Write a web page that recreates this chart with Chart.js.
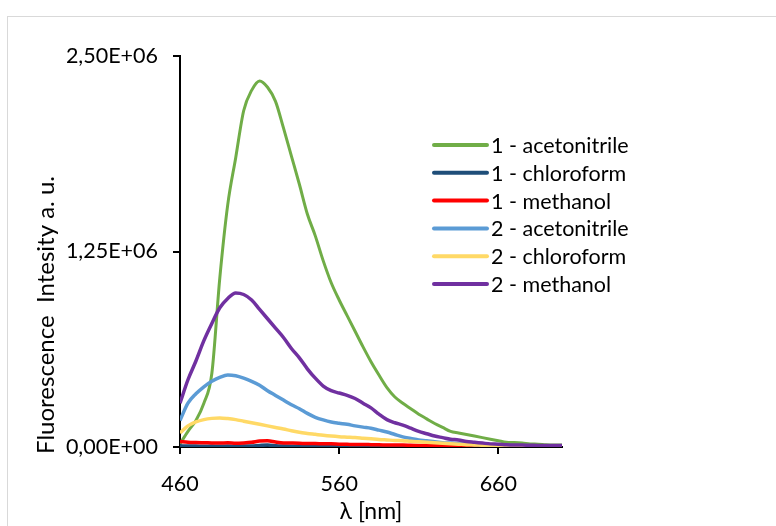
<!DOCTYPE html>
<html>
<head>
<meta charset="utf-8">
<script src="https://cdn.jsdelivr.net/npm/chart.js@4.4.1/dist/chart.umd.min.js"></script>
<style>
  html, body { margin: 0; padding: 0; background: #fff; }
  #wrap { position: relative; width: 776px; height: 526px; overflow: hidden; }
  #frame { position: absolute; left: 7px; top: 16px; width: 900px; height: 700px; border: 1px solid #d9d9d9; }
  #c { position: absolute; left: 0; top: 0; }
</style>
</head>
<body>
<div id="wrap">
  <div id="frame"></div>
  <canvas id="c" width="776" height="526"></canvas>
</div>
<script>
// Emission wavelengths, nm
const wavelengths = [460, 465, 470, 475, 480, 485, 490, 495, 500, 505, 510, 515, 520, 525, 530, 535, 540, 545, 550, 555,
  560, 565, 570, 575, 580, 585, 590, 595, 600, 605, 610, 615, 620, 625, 630, 635, 640, 645, 650, 655,
  660, 665, 670, 675, 680, 685, 690, 695, 700];

// Fluorescence intensity, in units of 10^6 a.u.
const acetonitrile1 = [0.02, 0.10, 0.17, 0.28, 0.47, 1.08, 1.55, 1.85, 2.15, 2.28, 2.34, 2.30, 2.21, 2.04, 1.86, 1.68, 1.49, 1.35, 1.19, 1.05,
  0.94, 0.84, 0.74, 0.64, 0.545, 0.46, 0.38, 0.32, 0.28, 0.245, 0.21, 0.18, 0.15, 0.125, 0.10, 0.09, 0.08, 0.07, 0.06, 0.05,
  0.04, 0.03, 0.028, 0.025, 0.02, 0.018, 0.015, 0.013, 0.012];
const chloroform1 = [0.008, 0.006, 0.006, 0.005, 0.006, 0.005, 0.006, 0.005, 0.006, 0.007, 0.010, 0.012, 0.008, 0.006, 0.005, 0.005, 0.005, 0.004, 0.004, 0.004,
  0.004, 0.004, 0.003, 0.003, 0.003, 0.003, 0.003, 0.003, 0.002, 0.002, 0.002, 0.002, 0.002, 0.002, 0.002, 0.002, 0.002, null, null, null,
  null, null, null, null, null, null, null, null, null];
const methanol1 = [0.035, 0.030, 0.028, 0.027, 0.026, 0.025, 0.027, 0.024, 0.026, 0.030, 0.038, 0.040, 0.032, 0.026, 0.025, 0.024, 0.022, 0.022, 0.020, 0.020,
  0.018, 0.017, 0.016, 0.016, 0.015, 0.014, 0.013, 0.012, 0.012, 0.011, 0.010, 0.009, 0.008, 0.008, 0.007, 0.006, 0.006, 0.005, 0.004, 0.004,
  null, null, null, null, null, null, null, null, null];
const acetonitrile2 = [0.17, 0.28, 0.34, 0.385, 0.42, 0.445, 0.46, 0.455, 0.44, 0.42, 0.395, 0.36, 0.33, 0.30, 0.27, 0.245, 0.215, 0.19, 0.173, 0.16,
  0.152, 0.145, 0.135, 0.127, 0.12, 0.108, 0.096, 0.08, 0.065, 0.055, 0.045, 0.04, 0.033, 0.028, 0.025, 0.022, 0.019, 0.016, 0.014, 0.012,
  0.010, 0.009, 0.008, 0.007, 0.007, 0.006, 0.006, 0.005, 0.005];
const chloroform2 = [0.09, 0.135, 0.16, 0.175, 0.183, 0.186, 0.182, 0.175, 0.165, 0.155, 0.145, 0.135, 0.125, 0.115, 0.104, 0.094, 0.087, 0.081, 0.075, 0.07,
  0.066, 0.063, 0.06, 0.056, 0.052, 0.048, 0.045, 0.042, 0.04, 0.036, 0.033, 0.03, 0.027, 0.024, 0.021, 0.018, 0.015, 0.013, 0.011, 0.009,
  0.008, 0.007, 0.006, 0.005, 0.005, 0.004, 0.004, 0.003, 0.003];
const methanol2 = [0.28, 0.43, 0.55, 0.68, 0.79, 0.89, 0.95, 0.985, 0.975, 0.94, 0.88, 0.82, 0.76, 0.70, 0.63, 0.57, 0.50, 0.44, 0.39, 0.36,
  0.345, 0.33, 0.31, 0.28, 0.25, 0.21, 0.175, 0.155, 0.14, 0.12, 0.10, 0.085, 0.07, 0.06, 0.05, 0.045, 0.035, 0.03, 0.025, 0.02,
  0.018, 0.015, 0.013, 0.012, 0.011, 0.010, 0.010, 0.010, 0.010];

const seriesNames = ['1 - acetonitrile', '1 - chloroform', '1 - methanol', '2 - acetonitrile', '2 - chloroform', '2 - methanol'];
const seriesValues = [acetonitrile1, chloroform1, methanol1, acetonitrile2, chloroform2, methanol2];
const seriesColors = ['#70AD47', '#1F4E79', '#FF0000', '#5B9BD5', '#FFD966', '#7030A0'];
const seriesWidths = [3, 3.5, 3.5, 3.5, 3.5, 3.5];

const xTickValues = [460, 560, 660];
const yTickValues = [0, 1.25, 2.5];

const FONT = 'Lato, "Open Sans", sans-serif';

function sciLabel(v) {
  if (v === 0) return '0,00E+00';
  return v.toFixed(2).replace('.', ',') + 'E+06';
}

// Legend drawn inside the plot area, plus the offset vertical axis title
const overlay = {
  id: 'overlay',
  afterDraw(chart) {
    const ctx = chart.ctx;
    ctx.save();
    ctx.font = '21.5px ' + FONT;
    ctx.textBaseline = 'middle';
    ctx.textAlign = 'left';
    chart.data.datasets.forEach((ds, i) => {
      const y = 145 + i * 27.8;
      ctx.strokeStyle = ds.borderColor;
      ctx.lineWidth = 4;
      ctx.lineCap = 'round';
      ctx.beginPath();
      ctx.moveTo(434, y);
      ctx.lineTo(487, y);
      ctx.stroke();
      ctx.fillStyle = '#000';
      ctx.fillText(ds.label, 491, y + 1);
    });
    ctx.translate(46, 315);
    ctx.rotate(-Math.PI / 2);
    ctx.textAlign = 'center';
    ctx.font = '24px ' + FONT;
    ctx.fillText('Fluorescence  Intesity a. u.', 0, 0);
    ctx.restore();
  }
};

const axisGrid = { drawOnChartArea: false, drawTicks: true, tickLength: 7, color: '#000', lineWidth: 2 };
const axisBorder = { display: true, color: '#000', width: 2 };

new Chart(document.getElementById('c'), {
  type: 'line',
  data: {
    datasets: seriesNames.map((name, i) => ({
      label: name,
      data: wavelengths.map((w, j) => ({ x: w, y: seriesValues[i][j] })),
      borderColor: seriesColors[i],
      backgroundColor: seriesColors[i],
      borderWidth: seriesWidths[i],
      pointRadius: 0,
      cubicInterpolationMode: 'monotone',
      order: seriesNames.length - i
    }))
  },
  options: {
    responsive: false,
    animation: false,
    layout: { padding: { left: 0, right: 214, top: 56, bottom: 0 } },
    plugins: { legend: { display: false }, tooltip: { enabled: false } },
    scales: {
      x: {
        type: 'linear', min: 460, max: 700,
        afterBuildTicks: a => { a.ticks = xTickValues.map(v => ({ value: v })); },
        grid: axisGrid, border: axisBorder,
        ticks: { font: { family: FONT, size: 21.5 }, color: '#000', padding: 17, maxRotation: 0, autoSkip: false },
        title: { display: true, text: 'λ [nm]', font: { family: FONT, size: 23 }, color: '#000', padding: { top: 0, bottom: 1 } },
        afterFit: s => { s.height = 79; }
      },
      y: {
        min: 0, max: 2.5,
        afterBuildTicks: a => { a.ticks = yTickValues.map(v => ({ value: v })); },
        grid: axisGrid, border: axisBorder,
        ticks: { font: { family: FONT, size: 21.5 }, color: '#000', padding: 15, callback: sciLabel },
        afterFit: s => { s.width = 180; }
      }
    }
  },
  plugins: [overlay]
});
</script>
</body>
</html>
